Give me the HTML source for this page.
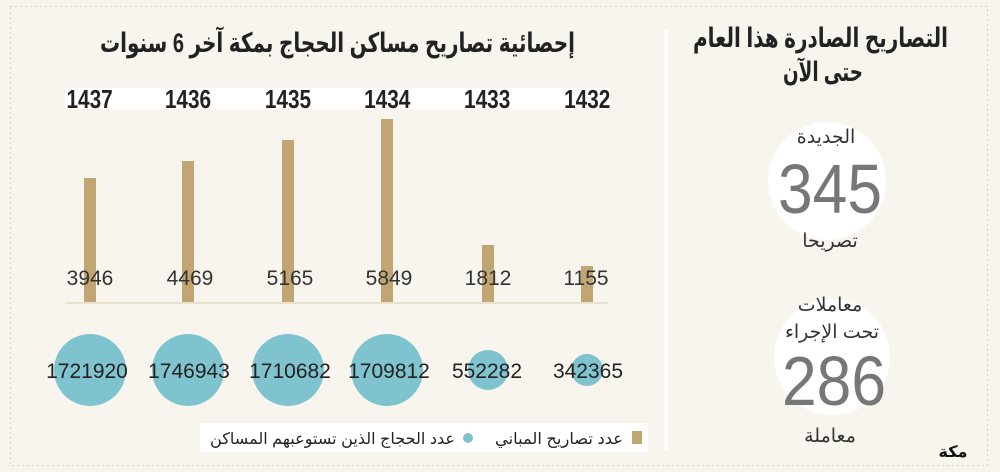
<!DOCTYPE html>
<html><head><meta charset="utf-8"><style>
body{margin:0;background:#f8f5ef;}
svg{display:block}
text{font-family:"Liberation Sans","DejaVu Sans",sans-serif;}
.ar{font-family:"Liberation Sans","Noto Sans CJK SC","DejaVu Sans",sans-serif;}
</style></head><body>
<svg width="1000" height="472" viewBox="0 0 1000 472" xmlns="http://www.w3.org/2000/svg">
<rect width="1000" height="472" fill="#f8f5ef"/>
<rect x="10.5" y="6.5" width="977" height="459" fill="none" stroke="#b9ab93" stroke-width="1" stroke-dasharray="1,4"/>
<line x1="666" y1="30" x2="666" y2="450" stroke="#ffffff" stroke-width="3"/>
<text x="100" y="52" class="ar" font-size="27" font-weight="bold" fill="#222" textLength="475" lengthAdjust="spacingAndGlyphs">إحصائية تصاريح مساكن الحجاج بمكة آخر 6 سنوات</text>
<rect x="65" y="88" width="545" height="21" fill="#fff"/>
<g font-size="26" font-weight="bold" fill="#222" text-anchor="middle" transform="scale(0.8,1)">
<text x="112" y="108">1437</text><text x="235" y="108">1436</text><text x="360" y="108">1435</text>
<text x="484" y="108">1434</text><text x="609" y="108">1433</text><text x="734" y="108">1432</text>
</g>
<g fill="#c1a673">
<rect x="84" y="178" width="12" height="124"/><rect x="182" y="161" width="12" height="141"/>
<rect x="282" y="140" width="12" height="162"/><rect x="381" y="119" width="12" height="183"/>
<rect x="482" y="245" width="12" height="57"/><rect x="581" y="266" width="12" height="36"/>
</g>
<line x1="65" y1="303" x2="608" y2="303" stroke="#e4d9c4" stroke-width="1.5"/>
<g font-size="21" fill="#333" text-anchor="middle">
<text x="90" y="285">3946</text><text x="190" y="285">4469</text><text x="290" y="285">5165</text>
<text x="389" y="285">5849</text><text x="488" y="285">1812</text><text x="586" y="285">1155</text>
</g>
<g fill="#7fc3cf">
<circle cx="90" cy="370" r="36"/><circle cx="188" cy="370" r="36"/><circle cx="288" cy="370" r="36"/>
<circle cx="387" cy="370" r="36"/><circle cx="488" cy="370" r="20"/><circle cx="587" cy="370" r="16"/>
</g>
<g font-size="21" fill="#222" text-anchor="middle">
<text x="87" y="378">1721920</text><text x="189" y="378">1746943</text><text x="290" y="378">1710682</text>
<text x="389" y="378">1709812</text><text x="487" y="378">552282</text><text x="588" y="378">342365</text>
</g>
<rect x="200" y="423" width="448" height="29" fill="#fff"/>
<rect x="632" y="431" width="10" height="13" fill="#c1a673"/>
<text x="495" y="444" class="ar" font-size="16" fill="#222" textLength="128" lengthAdjust="spacingAndGlyphs">عدد تصاريح المباني</text>
<circle cx="468" cy="438" r="5" fill="#7fc3cf"/>
<text x="210" y="444" class="ar" font-size="16" fill="#222" textLength="245" lengthAdjust="spacingAndGlyphs">عدد الحجاج الذين تستوعبهم المساكن</text>
<text x="693" y="47" class="ar" font-size="27" font-weight="bold" fill="#222" textLength="255" lengthAdjust="spacingAndGlyphs">التصاريح الصادرة هذا العام</text>
<text x="783" y="81" class="ar" font-size="27" font-weight="bold" fill="#222" textLength="80" lengthAdjust="spacingAndGlyphs">حتى الآن</text>
<circle cx="827" cy="181" r="59" fill="#fff"/>
<circle cx="832" cy="357" r="58" fill="#fff"/>
<text x="826" y="143" text-anchor="middle" class="ar" font-size="19" fill="#333">الجديدة</text>
<text x="830" y="213" text-anchor="middle" font-size="70" fill="#777" textLength="104" lengthAdjust="spacingAndGlyphs">345</text>
<text x="830" y="247" text-anchor="middle" class="ar" font-size="19" fill="#333">تصريحا</text>
<text x="830" y="311" text-anchor="middle" class="ar" font-size="19" fill="#333">معاملات</text>
<text x="832" y="338" text-anchor="middle" class="ar" font-size="19" fill="#333">تحت الإجراء</text>
<text x="834" y="405" text-anchor="middle" font-size="70" fill="#777" textLength="104" lengthAdjust="spacingAndGlyphs">286</text>
<text x="830" y="442" text-anchor="middle" class="ar" font-size="19" fill="#333">معاملة</text>
<text x="953" y="457" text-anchor="middle" class="ar" font-size="16" font-weight="bold" fill="#111">مكة</text>
</svg>
</body></html>
